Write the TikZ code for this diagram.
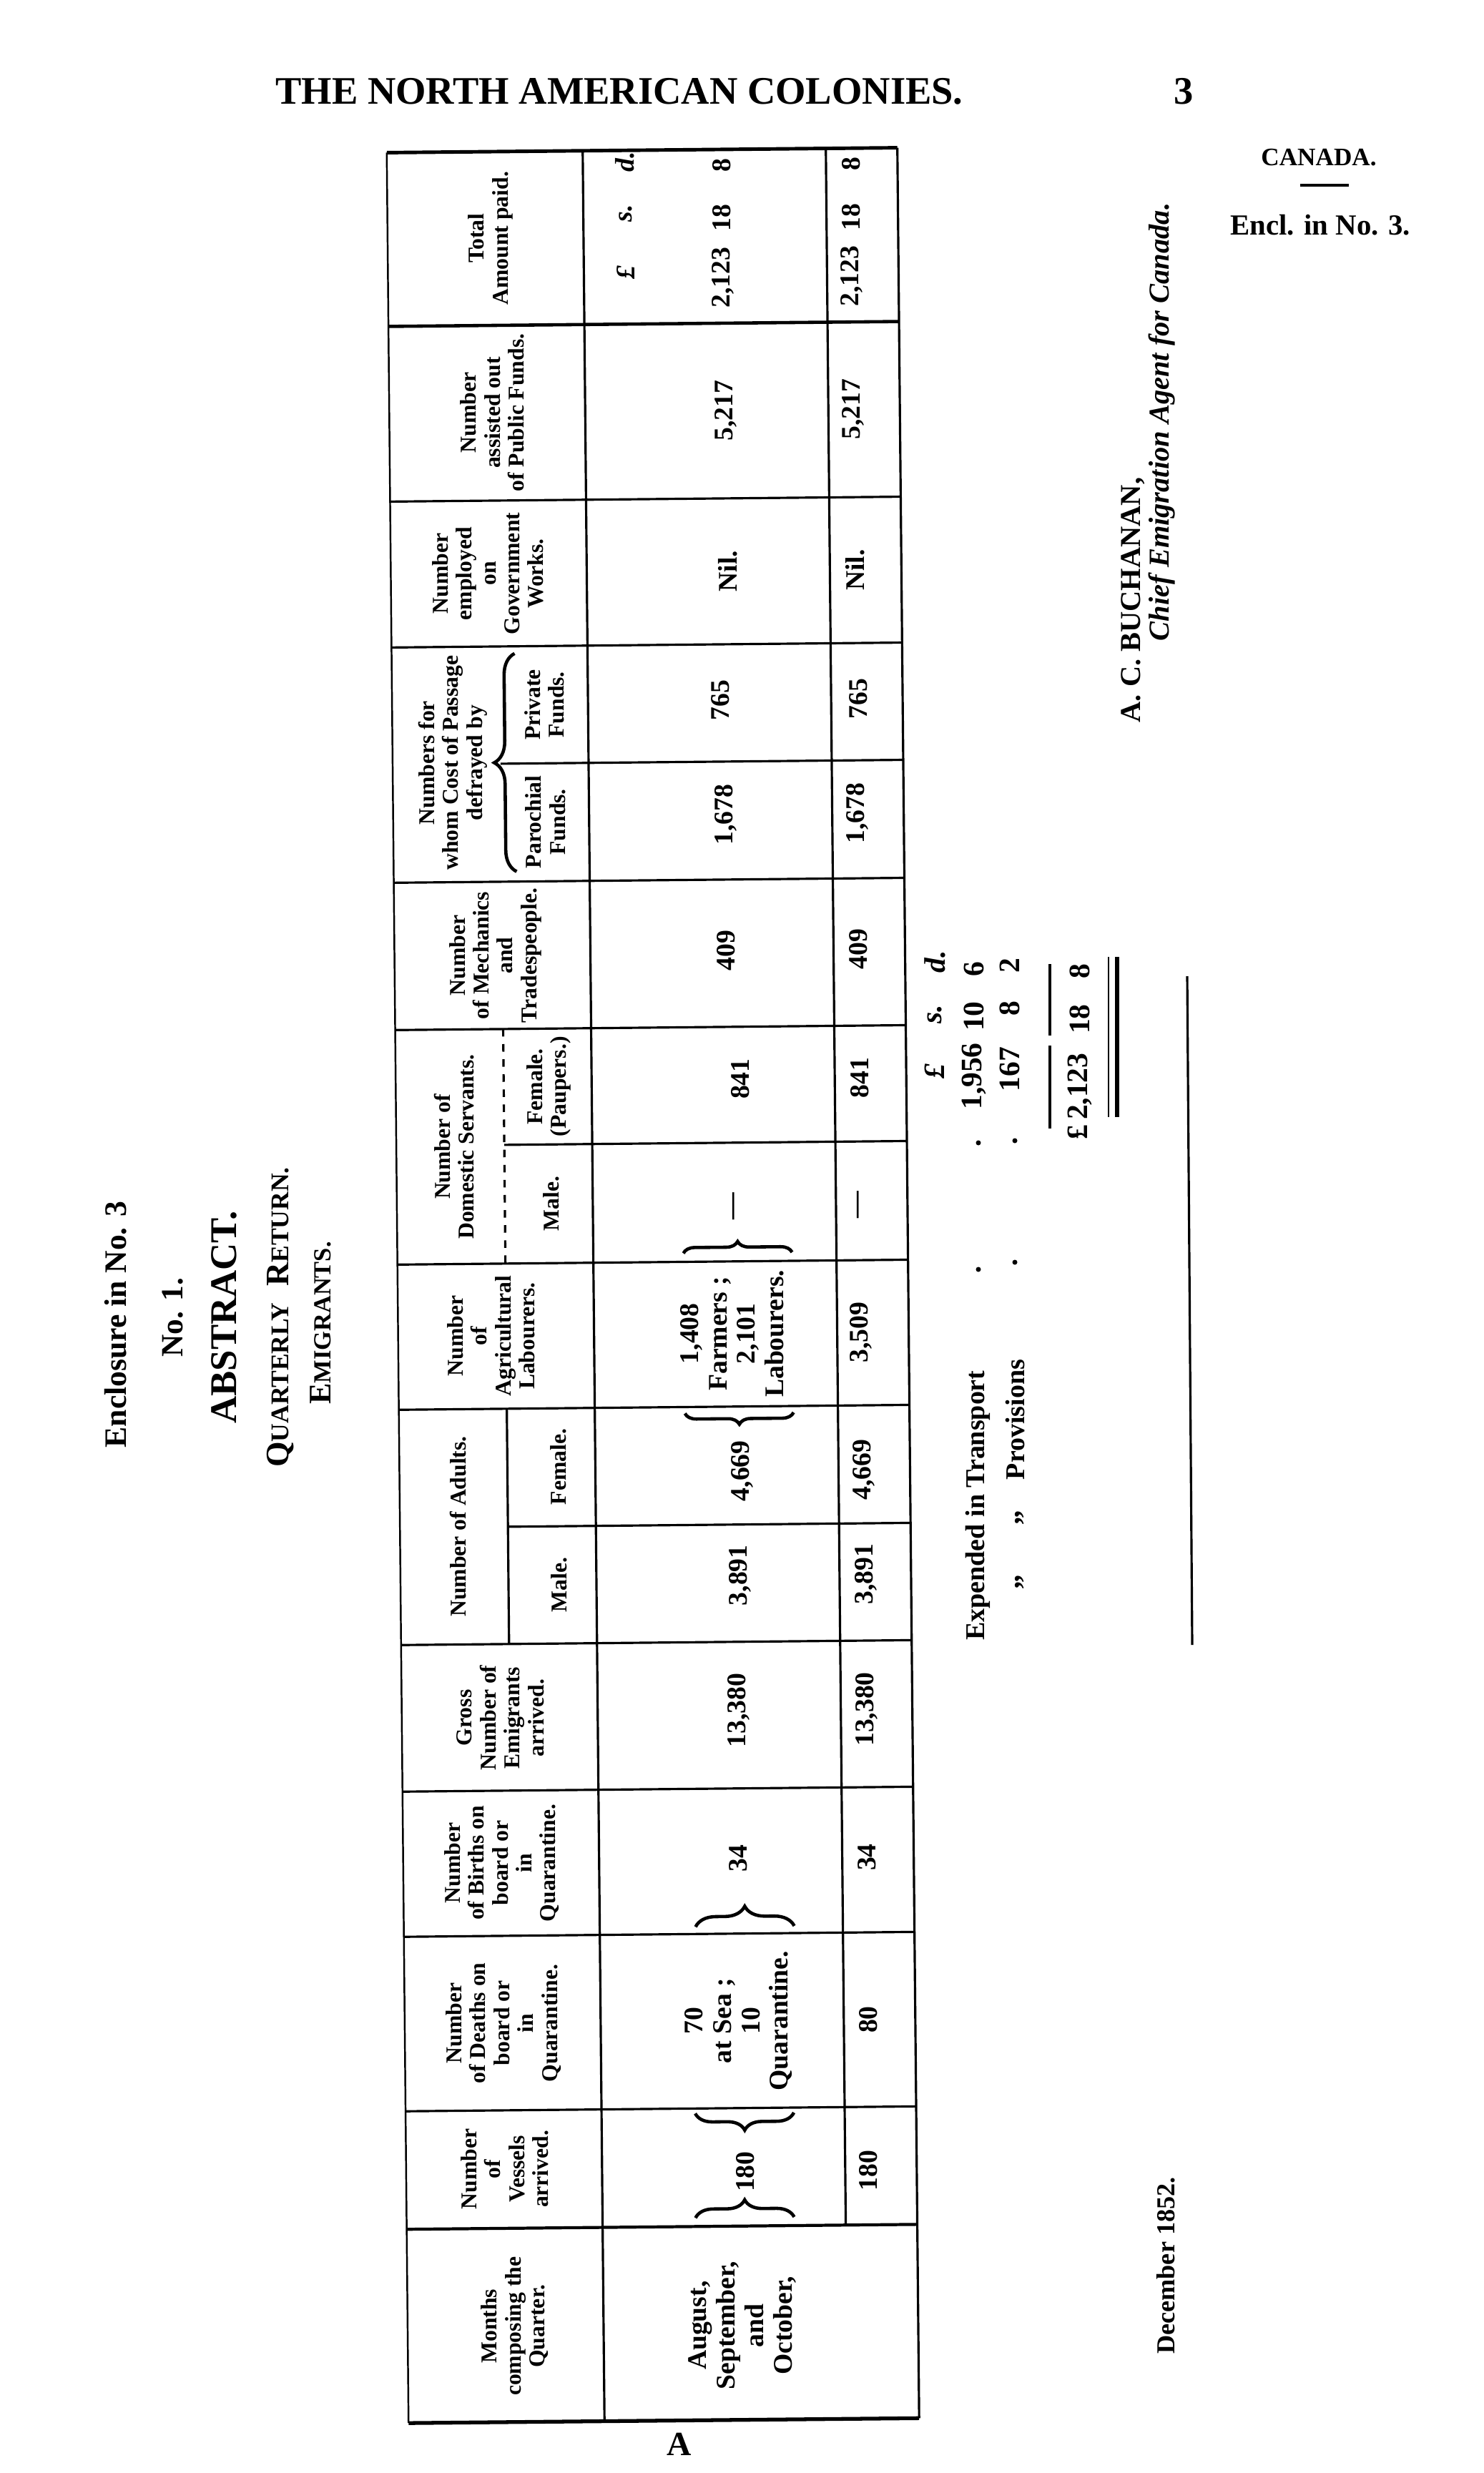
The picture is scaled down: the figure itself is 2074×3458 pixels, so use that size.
\documentclass[tikz,border=0pt]{standalone}
\usepackage{fontspec}
\setmainfont{Liberation Serif}
\usetikzlibrary{positioning,decorations.pathreplacing}
\newcommand\hdfont{\fontsize{9.0}{9.5}\selectfont\bfseries}
\newcommand\cellfont{\fontsize{10.7}{11.3}\selectfont\bfseries}
\newcommand\moneyfont{\fontsize{11.8}{12}\selectfont\bfseries}

\begin{document}
\begin{tikzpicture}[x=0.01cm, y=0.01cm,
  tline/.style={line width=0.9pt},
  head/.style={rotate=90, align=center, font=\hdfont},
  cell/.style={rotate=90, align=center, font=\cellfont},
  money/.style={rotate=90, font=\moneyfont},
  curly/.style={decorate, decoration={brace, amplitude=#1}, line width=1.3pt}]
\tikzstyle{every node}+=[inner sep=0pt, font=\bfseries]
\useasboundingbox (0,0) rectangle (2074,-3458);
\fill [white] (0,0) rectangle (2074,-3458);
% page heading
\node (title) at (866,-128) {\fontsize{15.5}{18}\selectfont THE NORTH AMERICAN COLONIES.};
\node (pageno) at (1655,-128) {\fontsize{15.5}{18}\selectfont 3};
\node (canada) at (1844,-220) {\fontsize{10}{12}\selectfont CANADA.};
\draw [line width=1pt] (1818,-259) -- (1886,-259);
\node (encl) at (1846,-315) {\fontsize{11.6}{13}\selectfont Encl. in No. 3.};
% titles on the left
\node [rotate=90] (enclosure) at (162,-1852) {\fontsize{12.4}{15}\selectfont Enclosure in No. 3};
\node [rotate=90] (number) at (242,-1842) {\fontsize{12.3}{14}\selectfont No. 1.};
\node [rotate=90] (abstract) at (313,-1842) {\fontsize{15}{17}\selectfont ABSTRACT.};
\node [rotate=90] (quarterly) at (392,-1842) {\fontsize{13}{15}\selectfont Q{\fontsize{10.1}{12}\selectfont UARTERLY}\ \ R{\fontsize{10.1}{12}\selectfont ETURN.}};
\node [rotate=90] (emigrants) at (448,-1850) {\fontsize{12.5}{15}\selectfont E{\fontsize{9.8}{12}\selectfont MIGRANTS.}};
% the table
\begin{scope}[rotate around={0.55:(900,-1800)}]
\draw [line width=1.4pt] (556,-210) -- (1270,-210);
\draw [line width=1.5pt] (556,-3385) -- (1270,-3385);
\draw [line width=0.7pt] (556,-210) -- (556,-3385);
\draw [tline] (1270,-210) -- (1270,-3385);
\draw [tline] (830,-210) -- (830,-3385);
\draw [tline] (1170,-210) -- (1170,-3114);
\draw [line width=1.3pt] (556,-453) -- (1270,-453);
\draw [tline] (556,-698) -- (1270,-698);
\draw [tline] (556,-902) -- (1270,-902);
\draw [tline] (707,-1066) -- (1270,-1066);
\draw [tline] (556,-1231) -- (1270,-1231);
\draw [tline] (556,-1437) -- (1270,-1437);
\draw [tline] (707,-1599) -- (1270,-1599);
\draw [tline] (556,-1765) -- (1270,-1765);
\draw [tline] (556,-1968) -- (1270,-1968);
\draw [tline] (707,-2133) -- (1270,-2133);
\draw [tline] (556,-2297) -- (1270,-2297);
\draw [tline] (556,-2502) -- (1270,-2502);
\draw [tline] (556,-2705) -- (1270,-2705);
\draw [tline] (556,-2949) -- (1270,-2949);
\draw [line width=1.2pt] (556,-3114) -- (1270,-3114);
\draw [tline, dashed] (707,-1437) -- (707,-1765);
\draw [tline] (707,-1968) -- (707,-2297);
\draw [curly=8.5pt] (728,-1217) -- (728,-912);
% headings
\node [head] (hTotal) at (700,-331) {Total\\Amount paid.};
\node [head] (hPublic) at (700,-575) {Number\\assisted out\\of Public Funds.};
\node [head] (hGovt) at (692,-800) {Number\\employed\\on\\Government\\Works.};
\node [head] (hCost) at (640,-1064) {Numbers for\\whom Cost of Passage\\defrayed by};
\node [head] (hPrivate) at (769,-984) {Private\\Funds.};
\node [head] (hParish) at (769,-1148) {Parochial\\Funds.};
\node [head] (hMech) at (697,-1334) {Number\\of Mechanics\\and\\Tradespeople.};
\node [head] (hDomestic) at (637,-1601) {Number of\\Domestic Servants.};
\node [head] (hDomF) at (770,-1518) {Female.\\(Paupers.)};
\node [head] (hDomM) at (772,-1682) {Male.};
\node [head] (hAgri) at (686,-1866) {Number\\of\\Agricultural\\Labourers.};
\node [head] (hAdults) at (637,-2132) {Number of Adults.};
\node [head] (hAdF) at (778,-2050) {Female.};
\node [head] (hAdM) at (778,-2215) {Male.};
\node [head] (hGross) at (694,-2400) {Gross\\Number of\\Emigrants\\arrived.};
\node [head] (hBirths) at (694,-2603) {Number\\of Births on\\board or\\in\\Quarantine.};
\node [head] (hDeaths) at (694,-2827) {Number\\of Deaths on\\board or\\in\\Quarantine.};
\node [head] (hVessels) at (694,-3031) {Number\\of\\Vessels\\arrived.};
\node [head] (hMonths) at (706,-3251) {Months\\composing the\\Quarter.};
% the return
\node [cell, font=\cellfont\itshape] (lsdL) at (889,-381) {£};
\node [cell, font=\cellfont\itshape] (lsdS) at (889,-298) {s.};
\node [cell, font=\cellfont\itshape] (lsdD) at (889,-226) {d.};
\node [cell] (dPounds) at (1024,-389) {2,123};
\node [cell] (dShill) at (1024,-306) {18};
\node [cell] (dPence) at (1024,-232) {8};
\node [cell] (dPublic) at (1027,-575) {5,217};
\node [cell] (dGovt) at (1027,-800) {Nil.};
\node [cell] (dPrivate) at (1015,-980) {765};
\node [cell] (dParish) at (1021,-1140) {1,678};
\node [cell] (dMech) at (1020,-1330) {409};
\node [cell] (dDomF) at (1038,-1510) {841};
\node [cell] (dDomM) at (1031,-1688) {—};
\node [cell] (dAgri) at (1023,-1866) {1,408\\Farmers ;\\2,101\\Labourers.};
\node [cell] (dAdF) at (1035,-2058) {4,669};
\node [cell] (dAdM) at (1031,-2204) {3,891};
\node [cell] (dGross) at (1027,-2393) {13,380};
\node [cell] (dBirths) at (1025,-2600) {34};
\node [cell] (dDeaths) at (1023,-2827) {70\\at Sea ;\\10\\Quarantine.};
\node [cell] (dVessels) at (1030,-3038) {180};
\node [cell] (dMonths) at (1024,-3253) {August,\\September,\\and\\October,};
\draw [curly=4.5pt] (1108,-1977) -- (956,-1977);
\draw [curly=4.5pt] (956,-1753) -- (1108,-1753);
\draw [curly=8pt] (964,-2695) -- (1102,-2695);
\draw [curly=6.8pt] (1099,-2956) -- (961,-2956);
\draw [curly=7pt] (960,-3102) -- (1098,-3102);
% totals
\node [cell] (tPounds) at (1205,-389) {2,123};
\node [cell] (tShill) at (1205,-306) {18};
\node [cell] (tPence) at (1205,-232) {8};
\node [cell] (tPublic) at (1205,-575) {5,217};
\node [cell] (tGovt) at (1205,-800) {Nil.};
\node [cell] (tPrivate) at (1208,-980) {765};
\node [cell] (tParish) at (1205,-1140) {1,678};
\node [cell] (tMech) at (1205,-1330) {409};
\node [cell] (tDomF) at (1205,-1510) {841};
\node [cell] (tDomM) at (1205,-1688) {—};
\node [cell] (tAgri) at (1203,-1866) {3,509};
\node [cell] (tAdF) at (1205,-2058) {4,669};
\node [cell] (tAdM) at (1207,-2204) {3,891};
\node [cell] (tGross) at (1206,-2393) {13,380};
\node [cell] (tBirths) at (1205,-2600) {34};
\node [cell] (tDeaths) at (1204,-2827) {80};
\node [cell] (tVessels) at (1202,-3038) {180};
\end{scope}
% the money spent
\node [money, font=\moneyfont\itshape] (mL) at (1307,-1498) {£};
\node [money, font=\moneyfont\itshape] (mS) at (1307,-1418) {s.};
\node [money, font=\moneyfont\itshape] (mD) at (1307,-1345) {d.};
\node [money, font=\fontsize{10.8}{12}\selectfont\bfseries] (transport) at (1367,-2105) {Expended in Transport};
\fill (1368,-1775) circle (3.5);
\fill (1368,-1598) circle (3.5);
\node [money] (tpL) at (1362,-1505) {1,956};
\node [money] (tpS) at (1362,-1421) {10};
\node [money] (tpD) at (1362,-1355) {6};
\node [money] (ditto1) at (1426,-2212) {„};
\node [money] (ditto2) at (1426,-2122) {„};
\node [money, font=\fontsize{10.8}{12}\selectfont\bfseries] (provisions) at (1419,-1985) {Provisions};
\fill (1419,-1765) circle (3.5);
\fill (1419,-1595) circle (3.5);
\node [money] (pvL) at (1412,-1495) {167};
\node [money] (pvS) at (1412,-1410) {8};
\node [money] (pvD) at (1412,-1350) {2};
\draw [line width=1.4pt] (1468,-1348) -- (1468,-1448);
\draw [line width=1.4pt] (1468,-1462) -- (1468,-1578);
\node [money] (smL) at (1510,-1533) {£\,2,123};
\node [money] (smS) at (1510,-1425) {18};
\node [money] (smD) at (1510,-1358) {8};
\draw [line width=0.6pt] (1550,-1338) -- (1550,-1562);
\draw [line width=1.5pt] (1562,-1338) -- (1562,-1562);
\draw [tline] (1660,-1365) -- (1667,-2300);
% signature and date
\node [rotate=90] (buchanan) at (1584,-839) {\fontsize{11.5}{13}\selectfont A. C. BUCHANAN,};
\node [rotate=90] (agent) at (1625,-590) {\fontsize{11.5}{13}\selectfont\itshape Chief Emigration Agent for Canada.};
\node [rotate=90] (date) at (1630,-3168) {\fontsize{10.3}{12}\selectfont December 1852.};
\node (sheet) at (950,-3418) {\fontsize{13.5}{15}\selectfont A};
\end{tikzpicture}
\end{document}
